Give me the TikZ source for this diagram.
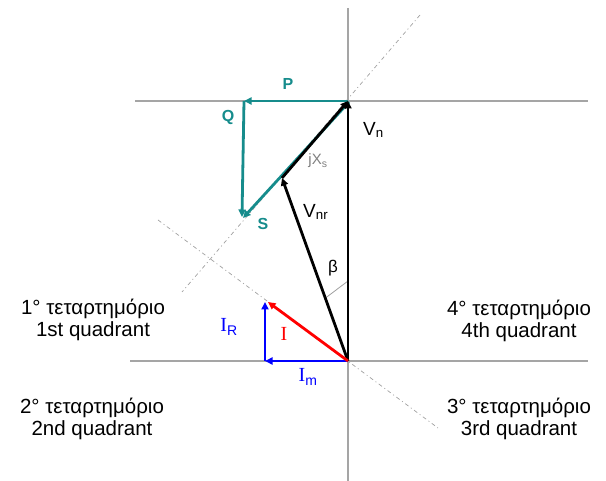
\documentclass[tikz,border=0pt]{standalone}
\usepackage{fontspec}
\setmainfont{Liberation Sans}
\newfontfamily\serifI{Liberation Serif}
\usetikzlibrary{arrows.meta}
\definecolor{tealc}{RGB}{22,140,140}
\definecolor{axisc}{RGB}{165,165,165}
\definecolor{dashc}{RGB}{160,160,160}
\tikzset{
  axis/.style={draw=axisc, line width=2pt},
  guide/.style={draw=dashc, line width=0.7pt, dash pattern=on 4pt off 3pt on 1pt off 3pt},
  vec/.style={line width=2.8pt, -{Triangle[length=7.5pt,width=7pt]}},
  quad/.style={align=center, font=\fontsize{20.5}{22}\selectfont, inner sep=0pt},
  lbl/.style={inner sep=0pt, font=\fontsize{19}{20}\selectfont},
  tlbl/.style={inner sep=0pt, text=tealc, font=\bfseries\fontsize{16}{18}\selectfont},
}
\begin{document}
\begin{tikzpicture}[x=1pt,y=-1pt]
\useasboundingbox (0,0) rectangle (606,481);
% key points
\coordinate (O) at (348,361);
\coordinate (N) at (348,101);
\coordinate (A) at (282,178);
\coordinate (Sp) at (242,217);
\coordinate (Qp) at (244,101);
\coordinate (It) at (268,302);
\coordinate (Rb) at (265,361);
\coordinate (Rt) at (265,302);
\coordinate (vt) at (348,8);
\coordinate (vb) at (348,481);
\coordinate (hl1) at (135,101);
\coordinate (hr1) at (588,101);
\coordinate (hl2) at (130,361);
\coordinate (hr2) at (588,361);
\coordinate (g1a) at (420,15);
\coordinate (g1b) at (182,292);
\coordinate (g2a) at (158,220);
\coordinate (g2b) at (438,428);
\coordinate (b1) at (325.5,298);
\coordinate (b2) at (348,281);
% guides
\draw[guide] (g1a) -- (g1b);
\draw[guide] (g2a) -- (g2b);
% axes
\draw[axis] (vt) -- (vb);
\draw[axis] (hl1) -- (hr1);
\draw[axis] (hl2) -- (hr2);
% beta mark
\draw[dashc, line width=0.8pt] (b1) -- (b2);
% teal triangle
\draw[vec, tealc] (N) -- (Qp);
\draw[vec, tealc] (Qp) -- (Sp);
\draw[vec, tealc, transform canvas={xshift=1pt,yshift=-1pt}] (N) -- (Sp);
% black vectors
\draw[vec, black] (O) -- (N);
\draw[vec, black] (O) -- (A);
\draw[vec, black] (A) -- (N);
% currents
\draw[vec, blue] (O) -- (Rb);
\draw[vec, blue] (Rb) -- (Rt);
\draw[vec, red] (O) -- (It);
% labels
\node[tlbl] (lP) at (288,84) {P};
\node[tlbl] (lQ) at (228,117) {Q};
\node[tlbl] (lS) at (263,224) {S};
\node[lbl, anchor=west] (lVn) at (363,130) {V\textsubscript{n}};
\node[inner sep=0pt, text=gray, font=\fontsize{15}{16}\selectfont] (lX) at (318,161) {jX\textsubscript{s}};
\node[lbl, anchor=west] (lVnr) at (303,212) {V\textsubscript{nr}};
\node[inner sep=0pt, font=\fontsize{17}{18}\selectfont] (lb) at (333,268) {β};
\node[inner sep=0pt, text=red, font=\serifI\fontsize{20}{20}\selectfont] (lI) at (284,334) {I};
\node[inner sep=0pt, text=blue, font=\fontsize{20}{20}\selectfont] (lIR) at (229,327) {{\serifI I}\textsubscript{R}};
\node[inner sep=0pt, text=blue, font=\fontsize{20}{20}\selectfont] (lIm) at (308,377) {{\serifI I}\textsubscript{m}};
% quadrants
\node[quad] (q1) at (93,320) {1° τεταρτημόριο\\1st quadrant};
\node[quad] (q2) at (92,419) {2° τεταρτημόριο\\2nd quadrant};
\node[quad] (q4) at (519,321) {4° τεταρτημόριο\\4th quadrant};
\node[quad] (q3) at (519,419) {3° τεταρτημόριο\\3rd quadrant};
\end{tikzpicture}
\end{document}
